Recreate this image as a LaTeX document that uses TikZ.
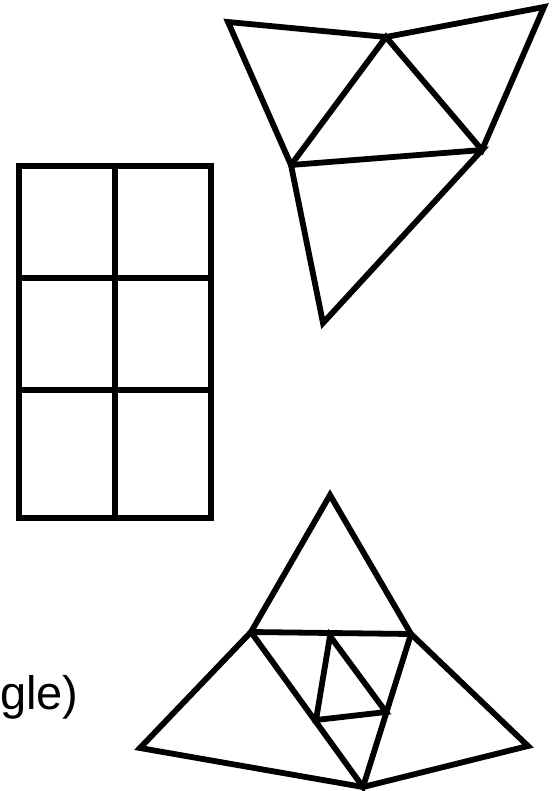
\documentclass[tikz,border=0pt]{standalone}
\usepackage{fontspec}
\setmainfont{Liberation Sans}
\tikzset{edge/.style={black, line width=5.8pt, line join=miter}}

\begin{document}
\begin{tikzpicture}[x=1pt, y=-1pt]
                    \useasboundingbox (0,0) rectangle (553,791);

                    % grid
                    \draw[edge] (19,166) rectangle (211,518);
                    \draw[edge] (115,166) -- (115,518);
                    \draw[edge] (19,278) -- (211,278);
                    \draw[edge] (19,390) -- (211,390);

                    % upper figure
                    \coordinate (ua) at (228,22);
                    \coordinate (ub) at (386,37);
                    \coordinate (uc) at (544,7);
                    \coordinate (ud) at (482,150);
                    \coordinate (ue) at (291,165);
                    \coordinate (uf) at (323,323);
                    \draw[edge] (ua) -- (ub) -- (uc) -- (ud) -- (ub) -- (ue) -- cycle;
                    \draw[edge] (ue) -- (ud) -- (uf) -- cycle;

                    % lower figure
                    \coordinate (top) at (330,495);
                    \coordinate (ml) at (251,632);
                    \coordinate (mr) at (411,634);
                    \coordinate (bl) at (140,748);
                    \coordinate (br) at (528,746);
                    \coordinate (bm) at (363,787);
                    \coordinate (ip) at (330,636);
                    \coordinate (iq) at (316,720);
                    \coordinate (is) at (386,712);
                    \draw[edge] (top) -- (ml) -- (mr) -- cycle;
                    \draw[edge] (ml) -- (bl) -- (bm) -- (br) -- (mr);
                    \draw[edge] (ml) -- (bm) -- (mr);
                    \draw[edge] (ip) -- (iq) -- (is) -- cycle;

                    \node[anchor=base west, inner sep=0pt, font=\fontsize{47}{56}\selectfont] (lbl) at (0,709) {gle)};
                \end{tikzpicture}
\end{document}
